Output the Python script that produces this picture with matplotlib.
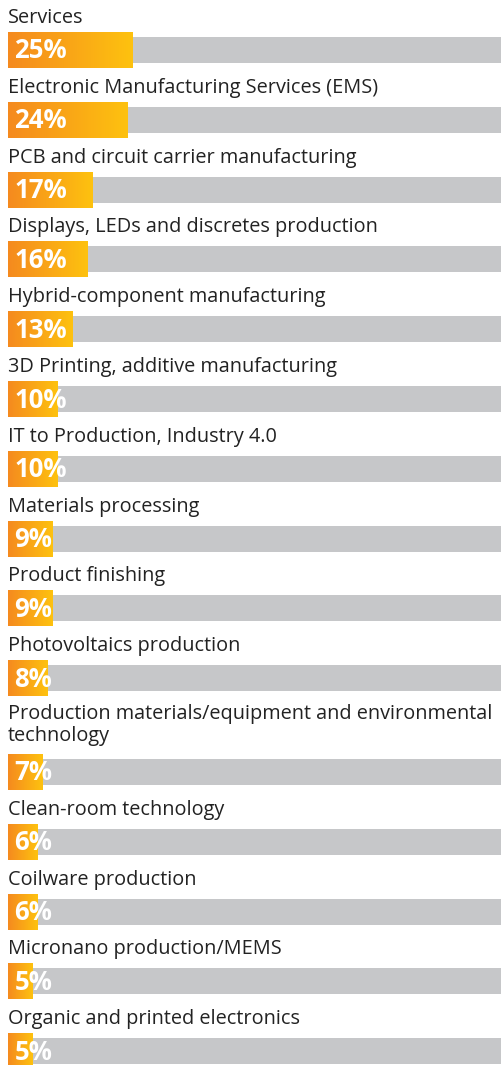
import numpy as np
import matplotlib
matplotlib.use("Agg")
from matplotlib import pyplot as plt
from matplotlib.colors import LinearSegmentedColormap

categories = [
    "Services",
    "Electronic Manufacturing Services (EMS)",
    "PCB and circuit carrier manufacturing",
    "Displays, LEDs and discretes production",
    "Hybrid-component manufacturing",
    "3D Printing, additive manufacturing",
    "IT to Production, Industry 4.0",
    "Materials processing",
    "Product finishing",
    "Photovoltaics production",
    "Production materials/equipment and environmental\ntechnology",
    "Clean-room technology",
    "Coilware production",
    "Micronano production/MEMS",
    "Organic and printed electronics",
]
shares = [25, 24, 17, 16, 13, 10, 10, 9, 9, 8, 7, 6, 6, 5, 5]

W, H = 501, 1065
LEFT = 8          # px where bars start
PX_PER_PCT = 5.0  # px per percent
ORANGE_H = 36
GRAY_H = 26
STEP = 69.8
EXTRA_LINE = 24

grad = LinearSegmentedColormap.from_list("og", ["#f58a1f", "#fec20f"])
gray = "#c6c7c9"
txt = "#222222"

fig = plt.figure(figsize=(W / 100, H / 100), dpi=100)
ax = fig.add_axes([LEFT / W, 0, 1 - LEFT / W, 1])
xmax = (W - LEFT) / PX_PER_PCT
ax.axis("off")

grad_img = np.linspace(0, 1, 256).reshape(1, -1)

yc = 50.0
for i, (cat, v) in enumerate(zip(categories, shares)):
    if i > 0:
        yc += STEP
    nlines = cat.count("\n") + 1
    yc += EXTRA_LINE * (nlines - 1)
    # gray track
    ax.barh(yc, 120, height=GRAY_H, left=0, color=gray, zorder=1)
    # orange gradient bar
    ax.imshow(grad_img, cmap=grad, aspect="auto", interpolation="bilinear",
              extent=[0, v, yc + ORANGE_H / 2, yc - ORANGE_H / 2], zorder=2)
    # percent label
    ax.text(1.3, yc + 1, f"{v}%", color="white", fontsize=18.5, fontweight="bold",
            family="Open Sans", va="center", ha="left", zorder=3)
    # category label
    ax.text(0, yc - ORANGE_H / 2 - 9 - 4 * (nlines - 1), cat, color=txt,
            fontsize=14.3, family="Open Sans", va="baseline", ha="left",
            linespacing=1.12, zorder=3)

ax.set_xlim(0, xmax)
ax.set_ylim(H, 0)

fig.savefig("out.png", dpi=100)
